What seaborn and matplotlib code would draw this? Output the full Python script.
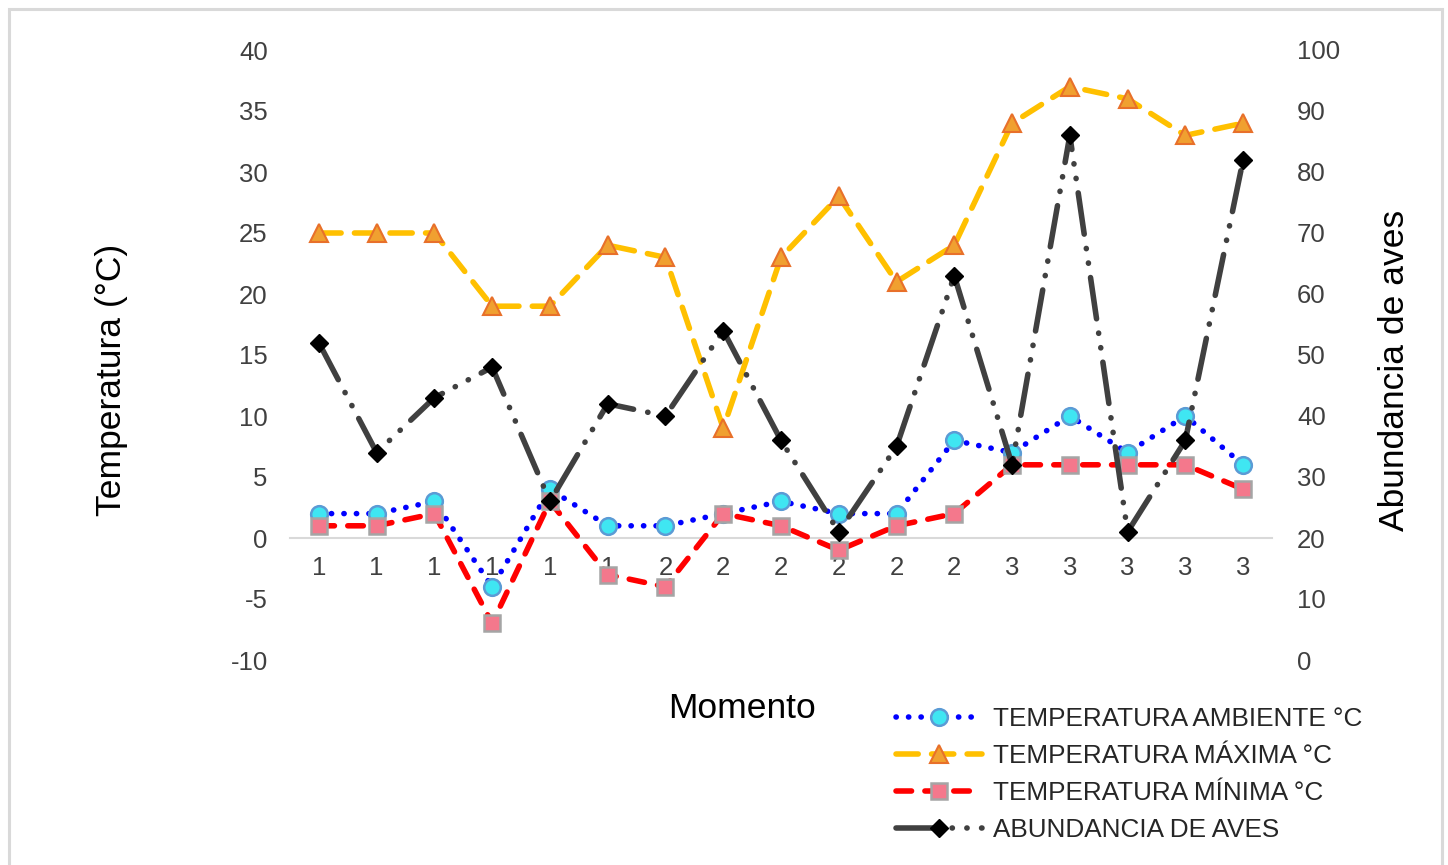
import numpy as np
import pandas as pd
import matplotlib
matplotlib.use("Agg")
import matplotlib.pyplot as plt
import seaborn as sns
from matplotlib.patches import Rectangle

# ---------------- data ----------------
momento = ["1", "1", "1", "1", "1", "1", "2", "2", "2", "2", "2", "2", "3", "3", "3", "3", "3"]
temp_ambiente = [2, 2, 3, -4, 4, 1, 1, 2, 3, 2, 2, 8, 7, 10, 7, 10, 6]
temp_maxima = [25, 25, 25, 19, 19, 24, 23, 9, 23, 28, 21, 24, 34, 37, 36, 33, 34]
temp_minima = [1, 1, 2, -7, 3, -3, -4, 2, 1, -1, 1, 2, 6, 6, 6, 6, 4]
abundancia = [52, 34, 43, 48, 26, 42, 40, 54, 36, 21, 35, 63, 32, 86, 21, 36, 82]
left_ticks = [-10, -5, 0, 5, 10, 15, 20, 25, 30, 35, 40]
right_ticks = [0, 10, 20, 30, 40, 50, 60, 70, 80, 90, 100]

sns.set_theme(style="white")
plt.rcParams["font.family"] = ["Liberation Sans", "DejaVu Sans"]
plt.rcParams["axes.unicode_minus"] = False

W, H = 1448, 865
fig = plt.figure(figsize=(W / 100, H / 100), dpi=100)
fig.patch.set_facecolor("white")
ax = fig.add_axes([290 / W, 1 - 660 / H, (1272 - 290) / W, 610 / H])
ax.set_facecolor("none")
ax2 = ax.twinx()

x = np.arange(len(momento))
df = pd.DataFrame({"x": x, "amb": temp_ambiente, "max": temp_maxima,
                   "min": temp_minima, "abu": abundancia})

lw = 4.0
# Temperatura ambiente
sns.lineplot(data=df, x="x", y="amb", ax=ax, color="#0000ff", lw=lw,
             marker="o", markersize=12, markerfacecolor="#3fe6f2",
             markeredgecolor="#5b9bd5", markeredgewidth=1.8,
             label="TEMPERATURA AMBIENTE °C", legend=False)
l_amb = ax.lines[-1]
l_amb.set_dashes((0.05, 2.2))
l_amb.set_dash_capstyle("round")

# Temperatura maxima
sns.lineplot(data=df, x="x", y="max", ax=ax, color="#ffc000", lw=lw,
             marker="^", markersize=13, markerfacecolor="#f0a030",
             markeredgecolor="#e8702a", markeredgewidth=1.5,
             label="TEMPERATURA MÁXIMA °C", legend=False)
l_max = ax.lines[-1]
l_max.set_dashes((4.0, 2.4))
l_max.set_dash_capstyle("round")

# Temperatura minima
sns.lineplot(data=df, x="x", y="min", ax=ax, color="#ff0000", lw=lw,
             marker="s", markersize=12, markerfacecolor="#f4788c",
             markeredgecolor="#a5a5a5", markeredgewidth=1.8,
             label="TEMPERATURA MÍNIMA °C", legend=False)
l_min = ax.lines[-1]
l_min.set_dashes((2.8, 2.4))
l_min.set_dash_capstyle("round")

# Abundancia
sns.lineplot(data=df, x="x", y="abu", ax=ax2, color="#404040", lw=lw,
             marker="D", markersize=9, markerfacecolor="black",
             markeredgecolor="black", markeredgewidth=1,
             label="ABUNDANCIA DE AVES", legend=False)
l_abu = ax2.lines[-1]
l_abu.set_dashes((7.5, 2.6, 0.05, 2.6, 0.05, 2.6))
l_abu.set_dash_capstyle("round")

# axes setup
ax.set_xlim(-0.5, len(momento) - 0.5)
ax.set_ylim(-10, 40)
ax2.set_ylim(0, 100)
ax.set_yticks(left_ticks)
ax2.set_yticks(right_ticks)
ax.set_xticks(x)
ax.set_xticklabels(momento)
ax.set_xlabel("")
ax.set_ylabel("")
ax2.set_ylabel("")

for a in (ax, ax2):
    for s in ("left", "right", "top"):
        a.spines[s].set_visible(False)
ax2.spines["bottom"].set_visible(False)
ax.spines["bottom"].set_position(("data", 0))
ax.spines["bottom"].set_color("#d9d9d9")
ax.spines["bottom"].set_linewidth(1.5)
ax.spines["bottom"].set_zorder(0)

tick_color = "#404040"
ax.tick_params(axis="x", length=0, pad=13, labelsize=18.5, labelcolor=tick_color)
ax.tick_params(axis="y", length=0, pad=16, labelsize=18.5, labelcolor=tick_color)
ax2.tick_params(axis="y", length=0, pad=18, labelsize=18.5, labelcolor=tick_color)

# axis titles
fig.text(742 / W, 1 - 709 / H, "Momento", fontsize=25.5, ha="center", va="center", color="black")
fig.text(112 / W, 1 - 380 / H, "Temperatura (°C)", fontsize=25.5, ha="center", va="center",
         rotation=90, color="black")
fig.text(1395 / W, 1 - 370 / H, "Abundancia de aves", fontsize=25.5, ha="center", va="center",
         rotation=90, color="black")

# legend
h1, lab1 = ax.get_legend_handles_labels()
h2, lab2 = ax2.get_legend_handles_labels()
leg = fig.legend(h1 + h2, lab1 + lab2, loc="upper left",
                 bbox_to_anchor=(896 / W, 1 - 707 / H), frameon=False,
                 fontsize=18.8, handlelength=3.3, handletextpad=0.4,
                 labelspacing=0.5, borderpad=0, borderaxespad=0)
for t in leg.get_texts():
    t.set_color("#262626")

# outer frame
fig.patches.append(Rectangle((8.5 / W, -0.05), (1442 - 8.5) / W, 1.05 - 8.5 / H,
                             transform=fig.transFigure, fill=False,
                             edgecolor="#d9d9d9", lw=2.2))

fig.savefig("out.png", dpi=100)
